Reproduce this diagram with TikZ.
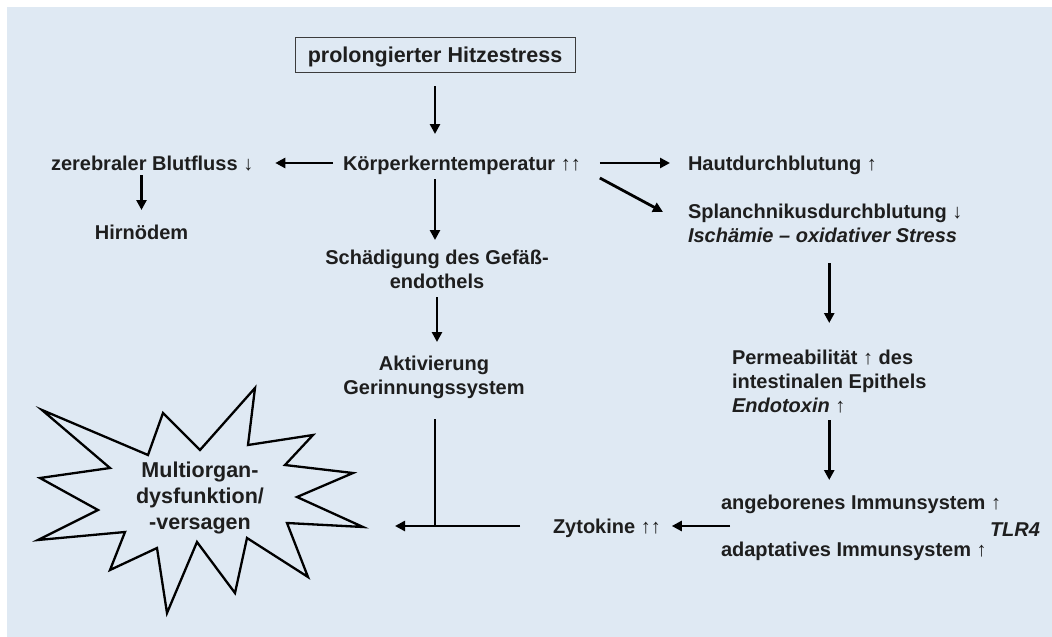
\documentclass[tikz,border=0pt]{standalone}
\usepackage{fontspec}
\setmainfont{Liberation Sans}
\usetikzlibrary{arrows.meta,calc}
\definecolor{bgpanel}{RGB}{223,233,243}
\definecolor{txtc}{RGB}{30,30,30}
\definecolor{boxc}{RGB}{60,60,60}
\newcommand{\uarr}{{\mdseries ↑}}
\newcommand{\darr}{{\mdseries ↓}}
\begin{document}
\begin{tikzpicture}[x=1pt,y=-1pt,
  txt/.style={inner sep=0pt, outer sep=0pt, text height=18pt, text depth=4pt,
    font=\fontsize{20}{24}\selectfont\bfseries, text=txtc},
  arr/.style={line width=2.8pt, draw=black, -{Triangle[length=10pt,width=10pt]}},
  plain/.style={line width=2.8pt, draw=black},
  burst/.style={line width=2.3pt, draw=black, line join=miter}
]
\useasboundingbox (0,0) rectangle (1052,637);
\fill[white] (0,0) rectangle (1052,637);
\fill[bgpanel] (7,7) rectangle (1052,637);

% nodes
\node[draw=boxc, line width=1pt, inner sep=0pt, outer sep=0pt, minimum width=280pt, minimum height=35pt,
  text height=18pt, text depth=2pt, font=\fontsize{21.5}{24}\selectfont\bfseries, text=txtc]
  (box) at (435,54.5) {prolongierter Hitzestress};
\node[txt, anchor=west] (koerper) at (343,163) {Körperkerntemperatur \uarr\uarr};
\node[txt, anchor=west] (zerebral) at (51,163) {zerebraler Blutfluss \darr};
\node[txt] (hirn) at (141.5,232) {Hirnödem};
\node[txt, anchor=base, align=center, text height=42pt] (schaed) at (437,288) {Schädigung des Gefäß-\\endothels};
\node[txt, anchor=base, align=center, text height=42pt] (akt) at (434,394) {Aktivierung\\Gerinnungssystem};
\node[txt, anchor=west] (haut) at (688,163) {Hautdurchblutung \uarr};
\node[txt, anchor=base west, align=left, text height=42pt] (splanch) at (688,242)
  {Splanchnikusdurchblutung \darr\\\textit{Ischämie – oxidativer Stress}};
\node[txt, anchor=base west, align=left, text height=66pt] (perm) at (732,412)
  {Permeabilität \uarr{} des\\intestinalen Epithels\\\textit{Endotoxin} \uarr};
\node[txt, anchor=west] (angeb) at (721,502) {angeborenes Immunsystem \uarr};
\node[txt, anchor=east] (tlr) at (1040,529) {\textit{TLR4}};
\node[txt, anchor=west] (adapt) at (721,549) {adaptatives Immunsystem \uarr};
\node[txt, anchor=west] (zyt) at (553,526) {Zytokine \uarr\uarr};

% starburst
\draw[burst] (255,388) -- (248,445) -- (313,435) -- (285,465) -- (353,473) -- (297,497)
  -- (363,527) -- (287,523) -- (308,577) -- (247,538) -- (235,593) -- (197,542)
  -- (167,613) -- (157,548) -- (110,570) -- (125,532) -- (38,540) -- (98,510)
  -- (40,478) -- (110,468) -- (42,410) -- (148,455) -- (163,413) -- (200,450) -- cycle;
\node[txt, anchor=base, align=center, text height=71pt, font=\fontsize{21.5}{26}\selectfont\bfseries]
  (multi) at (200,529) {Multiorgan-\\dysfunktion/\\-versagen};

\coordinate (burstR) at (395,526);
\coordinate (immL) at (730,526);

% connectors
\draw[arr, shorten <=14pt, shorten >=18pt] (box.south) -- (box.south |- koerper.north);
\draw[arr, shorten <=10pt, shorten >=22pt] (koerper.west) -- (zerebral.east);
\draw[arr, shorten <=1pt, shorten >=11pt] (zerebral.south -| hirn.north) -- (hirn.north);
\draw[arr, shorten <=5pt, shorten >=6pt] (box.south |- koerper.south) -- (box.south |- schaed.north);
\draw[arr, shorten <=5pt, shorten >=10pt] (schaed.south) -- (schaed.south |- akt.north);
\draw[plain, shorten <=21pt] (box.south |- akt.south) -- (box.south |- burstR);
\draw[arr, shorten <=33pt] (zyt.west) -- (burstR);
\draw[arr, shorten <=19pt, shorten >=18pt] (koerper.east) -- (haut.west);
\draw[arr] ($(koerper.east)+(19,15)$) -- ($(splanch.base west)+(-25,-30)$);
\draw[arr, shorten <=17pt, shorten >=23pt] (splanch.south -| perm.north) -- (perm.north);
\draw[arr, shorten <=4pt, shorten >=11pt] (perm.south) -- (perm.south |- angeb.north);
\draw[arr, shorten >=11pt] (immL) -- (zyt.east);
\end{tikzpicture}
\end{document}
